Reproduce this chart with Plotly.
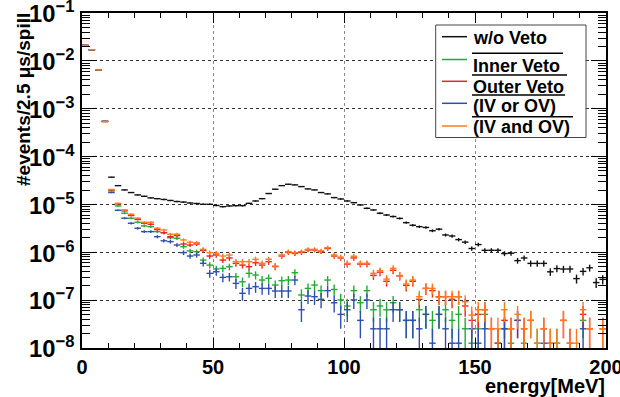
import numpy as np
import plotly.graph_objects as go

# ---------------------------------------------------------------- data
# energy spectrum in 2.5 MeV bins (0 - 200 MeV), events / 2.5 us / spill
BIN_WIDTH = 2.5
bin_center = np.arange(80) * BIN_WIDTH + BIN_WIDTH / 2

# events/spill represented by one raw count (sets the Poisson error bars)
COUNT_UNIT = 1.26e-8

wo_veto = [
    2.10e-2, 1.71e-2, 6.5e-3, 5.43e-4, 3.71e-5, 2.47e-5, 2.01e-5, 1.77e-5, 1.58e-5, 1.48e-5,
    1.37e-5, 1.32e-5, 1.27e-5, 1.21e-5, 1.15e-5, 1.12e-5, 1.07e-5, 1.045e-5, 1.006e-5, 1.006e-5,
    9.52e-6, 8.99e-6, 9.28e-6, 9.43e-6, 9.43e-6, 1.054e-5, 1.18e-5, 1.32e-5, 1.69e-5, 2.08e-5,
    2.47e-5, 2.64e-5, 2.56e-5, 2.36e-5, 2.11e-5, 2.01e-5, 1.77e-5, 1.66e-5, 1.39e-5, 1.30e-5,
    1.18e-5, 1.09e-5, 9.76e-6, 8.3e-6, 7.67e-6, 6.55e-6, 6.01e-6, 5.58e-6, 5.1e-6, 4.16e-6,
    3.67e-6, 3.43e-6, 3.30e-6, 2.82e-6, 3.04e-6, 2.30e-6, 2.19e-6, 1.84e-6, 1.63e-6, 1.20e-6,
    1.45e-6, 1.10e-6, 1.10e-6, 1.10e-6, 9.4e-7, 9.55e-7, 6.7e-7, 7.6e-7, 5.86e-7, 5.86e-7,
    5.86e-7, 3.91e-7, 4.57e-7, 4.47e-7, 4.47e-7, 2.82e-7, 3.99e-7, 4.74e-7, 2.33e-7, 2.72e-7,
]

inner_veto = [
    2.10e-2, 1.71e-2, 6.5e-3, 5.43e-4, 1.91e-5, 9.28e-6, 6.55e-6, 5.15e-6, 4.24e-6, 3.55e-6,
    3.43e-6, 2.70e-6, 2.57e-6, 2.02e-6, 1.96e-6, 1.31e-6, 1.07e-6, 1.03e-6, 6.87e-7, 5.4e-7,
    4.48e-7, 4.61e-7, 4.99e-7, 3.08e-7, 2.42e-7, 3.63e-7, 3.35e-7, 2.63e-7, 2.86e-7, 2.07e-7,
    2.55e-7, 2.63e-7, 3.74e-7, 1.28e-7, 1.76e-7, 2.07e-7, 1.58e-7, 2.63e-7, 1.67e-7, 1.01e-7,
    7.56e-8, 1.58e-7, 8.82e-8, 1.58e-7, 6.3e-8, 7.56e-8, 6.3e-8, 8.82e-8, 6.3e-8, 3.78e-8,
    3.78e-8, 6.3e-8, 5.04e-8, 3.78e-8, 5.04e-8, 6.3e-8, 3.78e-8, 5.04e-8, 2.52e-8, 1.26e-8,
    2.52e-8, 5.04e-8, None, 1.26e-8, 2.52e-8, 1.26e-8, None, 1.26e-8, None, 1.26e-8,
    None, None, 1.26e-8, None, None, None, 3.78e-8, None, None, None,
]

outer_veto = [
    2.10e-2, 1.71e-2, 6.5e-3, 5.43e-4, 2.01e-5, 1.025e-5, 7.33e-6, 5.87e-6, 4.86e-6, 4.04e-6,
    3.85e-6, 2.99e-6, 2.57e-6, 2.12e-6, 2.24e-6, 1.49e-6, 1.42e-6, 1.49e-6, 1.09e-6, 8.35e-7,
    8.77e-7, 6.87e-7, 7.61e-7, 5.86e-7, 5.4e-7, 4.99e-7, 6.04e-7, 5.4e-7, 6.37e-7, 5.03e-7,
    8.35e-7, 9.93e-7, 9.47e-7, 9.93e-7, 1.115e-6, 1.115e-6, 1.03e-6, 1.20e-6, 8.35e-7, 7.61e-7,
    5.67e-7, 7.61e-7, 5.67e-7, 5.67e-7, 3.29e-7, 3.84e-7, 2.48e-7, 4.2e-7, 3.2e-7, 2.03e-7,
    2.48e-7, 1.04e-7, 1.76e-7, 1.58e-7, 1.18e-7, 1.18e-7, 1.04e-7, 1.18e-7, 7.56e-8, 3.78e-8,
    5.04e-8, 6.3e-8, 2.52e-8, 1.26e-8, 3.78e-8, 2.52e-8, 3.78e-8, 2.52e-8, 3.78e-8, None,
    2.52e-8, 1.26e-8, None, 3.78e-8, 1.26e-8, None, 5.04e-8, 2.52e-8, None, 2.52e-8,
]

iv_or_ov = [
    2.10e-2, 1.71e-2, 6.5e-3, 5.43e-4, 1.77e-5, 7.56e-6, 5.15e-6, 4.04e-6, 3.18e-6, 2.70e-6,
    2.70e-6, 2.12e-6, 1.74e-6, 1.67e-6, 1.42e-6, 9.84e-7, 8.35e-7, 8.77e-7, 5.88e-7, 3.63e-7,
    3.93e-7, 2.99e-7, 3.08e-7, 2.24e-7, 1.39e-7, 1.76e-7, 1.91e-7, 1.76e-7, 1.76e-7, 1.55e-7,
    1.55e-7, 1.55e-7, 2.63e-7, 6.3e-8, 1.22e-7, 1.18e-7, 1.04e-7, 1.58e-7, 8.82e-8, 5.04e-8,
    6.3e-8, 1.01e-7, 3.78e-8, 1.01e-7, 2.52e-8, 2.52e-8, 2.52e-8, 6.3e-8, 6.3e-8, 3.78e-8,
    3.78e-8, 2.52e-8, 5.04e-8, 1.26e-8, 5.04e-8, 2.52e-8, 1.26e-8, 1.26e-8, None, 2.52e-8,
    1.26e-8, 2.52e-8, None, None, 2.52e-8, None, 3.78e-8, None, None, None,
    1.26e-8, None, None, None, None, None, 2.52e-8, None, None, None,
]

iv_and_ov = [
    2.10e-2, 1.71e-2, 6.5e-3, 5.43e-4, 2.05e-5, 1.054e-5, 7.67e-6, 6.23e-6, 5.15e-6, 4.24e-6,
    4.24e-6, 3.18e-6, 2.92e-6, 2.38e-6, 2.38e-6, 1.81e-6, 1.62e-6, 1.58e-6, 1.15e-6, 9.84e-7,
    9.56e-7, 8.35e-7, 8.77e-7, 6.37e-7, 6.37e-7, 6.37e-7, 7.15e-7, 5.88e-7, 7.15e-7, 5.15e-7,
    8.77e-7, 1.03e-6, 9.84e-7, 1.03e-6, 1.15e-6, 1.15e-6, 1.07e-6, 1.245e-6, 8.77e-7, 7.9e-7,
    5.88e-7, 8.26e-7, 5.88e-7, 5.88e-7, 3.63e-7, 4.11e-7, 2.75e-7, 4.61e-7, 3.26e-7, 2.17e-7,
    2.63e-7, 1.18e-7, 1.76e-7, 1.76e-7, 1.16e-7, 1.18e-7, 1.18e-7, 1.18e-7, 9.27e-8, 4.87e-8,
    6.3e-8, 6.3e-8, 2.52e-8, 2.52e-8, 6.3e-8, 2.52e-8, 5.04e-8, 2.52e-8, 3.78e-8, 1.26e-8,
    2.52e-8, 1.26e-8, 1.26e-8, 3.78e-8, 1.26e-8, 1.26e-8, 6.3e-8, 2.52e-8, None, 2.52e-8,
]

series_names = ["w/o Veto", "Inner Veto", "Outer Veto", "(IV or OV)", "(IV and OV)"]
series_values = [wo_veto, inner_veto, outer_veto, iv_or_ov, iv_and_ov]
series_colors = ["#111111", "#22aa33", "#ee2222", "#2d4fae", "#ff7a1f"]
overlined = [False, True, True, True, True]

FONT = "Liberation Sans, Arial, Helvetica, sans-serif"

# ---------------------------------------------------------------- geometry helpers
W, H = 620, 397
ML, MR, MT, MB = 82, 14, 13, 49
PW, PH = W - ML - MR, H - MT - MB


def px(x):
    return (x - ML) / PW


def py(y):
    return (H - MB - y) / PH


def poisson(vals):
    up, down = [], []
    for v in vals:
        if v is None:
            up.append(0.0)
            down.append(0.0)
            continue
        e = (v * COUNT_UNIT) ** 0.5
        up.append(e)
        down.append(e if e < v else v - 1e-14)
    return up, down


fig = go.Figure()

# histogram points drawn as bin-width / statistical-error crosses only
for name, vals, col in zip(series_names, series_values, series_colors):
    up, down = poisson(vals)
    fig.add_trace(go.Scatter(
        x=bin_center, y=vals, mode="markers", name=name, showlegend=False,
        marker=dict(size=1, color=col, opacity=0),
        error_x=dict(type="constant", value=BIN_WIDTH / 2, width=0,
                     thickness=1.4, color=col),
        error_y=dict(type="data", array=up, arrayminus=down, symmetric=False,
                     width=0, thickness=1.4, color=col),
        hoverinfo="x+y+name",
    ))

fig.update_xaxes(
    range=[0, 200], dtick=50, tick0=0, automargin=False,
    showline=True, linecolor="black", linewidth=1.5, mirror="ticks",
    ticks="inside", ticklen=10, tickwidth=1, tickcolor="black",
    minor=dict(dtick=10, ticks="inside", ticklen=5, tickcolor="black", showgrid=False),
    showgrid=True, gridcolor="#8a8a8a", griddash="dot", gridwidth=1,
    zeroline=False,
    ticklabeloverflow="allow",
    tickfont=dict(family=FONT, size=20, color="black", weight="bold"),
)
fig.update_yaxes(
    type="log", range=[-8, -1], dtick=1, exponentformat="power", automargin=False,
    showline=True, linecolor="black", linewidth=1.5, mirror="ticks",
    ticks="inside", ticklen=15, tickwidth=1, tickcolor="black",
    minor=dict(dtick="D1", ticks="inside", ticklen=8, tickcolor="black", showgrid=False),
    showgrid=True, gridcolor="#333333", griddash="dot", gridwidth=1,
    zeroline=False,
    ticklabelstandoff=2,
    ticklabelshift=1,
    ticklabeloverflow="allow",
    tickfont=dict(family=FONT, size=19, color="black", weight="bold"),
)

# ---------------------------------------------------------------- legend box
shapes = [dict(type="rect", xref="paper", yref="paper",
               x0=px(435.7), x1=px(586), y0=py(25), y1=py(137.5),
               line=dict(color="#444444", width=1), fillcolor="white", layer="above")]
annotations = []

sample_y = [36.7, 59.5, 81.3, 103.3, 126]
text_y = [38.5, 65.5, 86.7, 106, 126.5]
overline_y = [None, 53.3, 75, 95, 116.7]
overline_x1 = [None, 563, 567, 565, 573]

for k, (name, col) in enumerate(zip(series_names, series_colors)):
    shapes.append(dict(type="line", xref="paper", yref="paper",
                       x0=px(442), x1=px(467), y0=py(sample_y[k]), y1=py(sample_y[k]),
                       line=dict(color=col, width=1.5), layer="above"))
    annotations.append(dict(text=name, xref="paper", yref="paper",
                            x=px(471), y=py(text_y[k]), xanchor="left", yanchor="middle",
                            showarrow=False,
                            font=dict(family=FONT, size=18, color="black", weight="bold")))
    if overlined[k]:
        shapes.append(dict(type="line", xref="paper", yref="paper",
                           x0=px(472), x1=px(overline_x1[k]),
                           y0=py(overline_y[k]), y1=py(overline_y[k]),
                           line=dict(color="black", width=1.5), layer="above"))

# axis titles (right / top aligned)
annotations.append(dict(text="#events/2.5 μs/spill", xref="paper", yref="paper",
                        x=px(23), y=py(100), xanchor="center", yanchor="middle",
                        textangle=-90, showarrow=False,
                        font=dict(family=FONT, size=19, color="black", weight="bold")))
annotations.append(dict(text="energy[MeV]", xref="paper", yref="paper",
                        x=px(607), y=py(386.5), xanchor="right", yanchor="middle",
                        showarrow=False,
                        font=dict(family=FONT, size=20, color="black", weight="bold")))

fig.update_layout(
    width=W, height=H,
    margin=dict(l=ML, r=MR, t=MT, b=MB, autoexpand=False),
    paper_bgcolor="white", plot_bgcolor="white",
    shapes=shapes, annotations=annotations,
    showlegend=False,
)

fig.write_html("out.html")
